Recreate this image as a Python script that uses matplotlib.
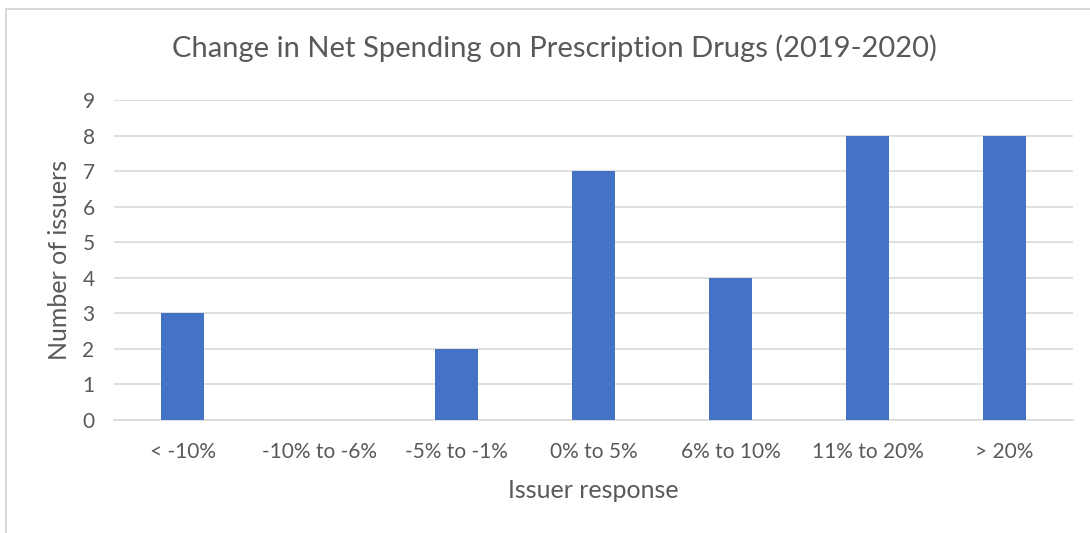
import matplotlib
matplotlib.use("Agg")
import matplotlib.pyplot as plt
from matplotlib.patches import Rectangle

categories = ["< -10%", "-10% to -6%", "-5% to -1%", "0% to 5%", "6% to 10%", "11% to 20%", "> 20%"]
values = [3, 0, 2, 7, 4, 8, 8]
yticks = list(range(0, 10))

plt.rcParams['font.family'] = ['Lato', 'DejaVu Sans']
txt = '#595959'

fig = plt.figure(figsize=(10.9, 5.33), dpi=100)
fig.patches.append(Rectangle((6/1090, -0.1), 1.2, 1 - 9/533 + 0.1, transform=fig.transFigure,
                             fill=False, edgecolor='#D9D9D9', linewidth=1.5))
ax = fig.add_axes([114/1090, 1 - 420/533, (1073-114)/1090, 320/533])
x = list(range(len(categories)))
ax.bar(x, values, width=0.315, color='#4472C4', zorder=3)
ax.set_xlim(-0.5, len(categories) - 0.5)
ax.set_ylim(0, 9)
ax.set_yticks(yticks)
ax.set_xticks(x)
ax.set_xticklabels(categories)
ax.grid(axis='y', color='#D9D9D9', linewidth=1.2, zorder=0)
for s in ['top', 'right', 'left']:
    ax.spines[s].set_visible(False)
ax.spines['bottom'].set_color('#D9D9D9')
ax.spines['bottom'].set_linewidth(1.2)
ax.tick_params(axis='both', length=0, labelsize=15, colors=txt)
ax.tick_params(axis='x', pad=16)
ax.tick_params(axis='y', pad=14)
ax.set_xlabel("Issuer response", fontsize=18, color=txt, labelpad=12)
ax.set_ylabel("Number of issuers", fontsize=18, color=txt, labelpad=8)
fig.text(554/1090, 1 - 48/533, "Change in Net Spending on Prescription Drugs (2019-2020)",
         ha='center', va='center', fontsize=21, color=txt)
fig.savefig("out.png", dpi=100)
